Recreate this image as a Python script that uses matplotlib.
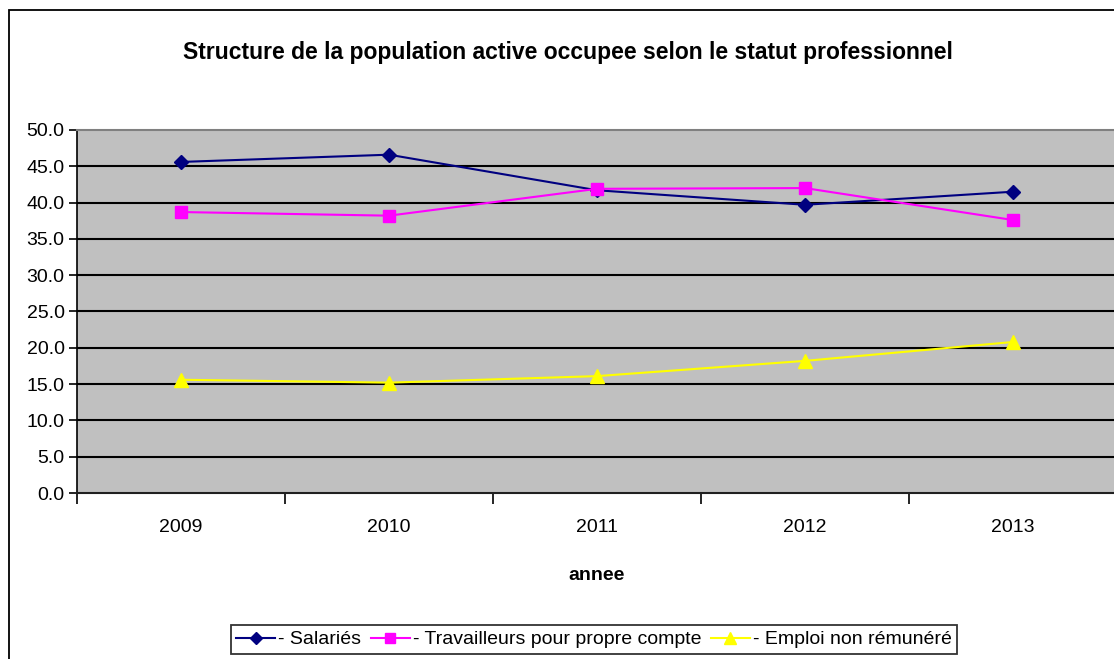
import matplotlib
matplotlib.use("Agg")
import matplotlib.pyplot as plt
from matplotlib.patches import Rectangle

years = ["2009", "2010", "2011", "2012", "2013"]
salaries = [45.6, 46.6, 41.7, 39.7, 41.5]
travailleurs = [38.7, 38.2, 41.9, 42.0, 37.6]
emploi = [15.6, 15.2, 16.1, 18.2, 20.8]
labels = ["- Salariés", "- Travailleurs pour propre compte", "- Emploi non rémunéré"]
title = "Structure de la population active occupee selon le statut professionnel"
xlabel = "annee"
yticks = [0, 5, 10, 15, 20, 25, 30, 35, 40, 45, 50]

plt.rcParams['font.family'] = ['Liberation Sans', 'DejaVu Sans']

W, H = 1114, 659
fig = plt.figure(figsize=(W / 100, H / 100), dpi=100)
fig.patch.set_facecolor("white")

# outer chart frame
fig.patches.append(Rectangle((8.5 / W, -0.05), 1.2, 1 - 10 / H + 0.05,
                             transform=fig.transFigure, fill=False,
                             edgecolor="black", linewidth=1.3, zorder=0))

ax = fig.add_axes([77 / W, 1 - 493 / H, 1040 / W, 363 / H])
ax.set_facecolor("#C0C0C0")

x = list(range(len(years)))
ax.plot(x, salaries, color="#000080", marker="D", markersize=7.5, linewidth=1.5,
        label=labels[0], zorder=4)
ax.plot(x, travailleurs, color="#FF00FF", marker="s", markersize=8, linewidth=1.5,
        label=labels[1], zorder=4)
ax.plot(x, emploi, color="#FFFF00", marker="^", markersize=9.5, linewidth=1.5,
        label=labels[2], zorder=4)

ax.set_xlim(-0.5, len(years) - 0.5)
ax.set_ylim(0, 50)
ax.set_yticks(yticks)
ax.set_yticklabels([f"{v:.1f}" for v in yticks], fontsize=14)
for v in yticks[1:-1]:
    ax.axhline(v, color="black", linewidth=1.5, zorder=1)

ax.set_xticks(x)
ax.set_xticklabels(years, fontsize=14)
ax.tick_params(axis="x", which="major", length=0, pad=19)
ax.set_xticks([i - 0.5 for i in range(len(years) + 1)], minor=True)
ax.tick_params(axis="x", which="minor", length=8, width=1.2, direction="out")
ax.tick_params(axis="y", length=6, width=1.2, direction="out", pad=3)

ax.spines["right"].set_visible(False)
ax.spines["top"].set_color("#808080")
ax.spines["top"].set_linewidth(1.5)
ax.spines["left"].set_color("black")
ax.spines["left"].set_linewidth(1.2)
ax.spines["bottom"].set_color("#202020")
ax.spines["bottom"].set_linewidth(1.5)

fig.text(568 / W, 1 - 52 / H, title, ha="center", va="center",
         fontsize=16.5, fontweight="bold")
fig.text(597 / W, 1 - 575 / H, xlabel, ha="center", va="center",
         fontsize=14, fontweight="bold")

handles, lbls = ax.get_legend_handles_labels()
leg = fig.legend(handles, lbls, loc="center", bbox_to_anchor=(594 / W, 1 - 639.5 / H),
                 ncol=3, fontsize=14, frameon=True, fancybox=False,
                 edgecolor="black", handlelength=2.0, handletextpad=0.15,
                 columnspacing=0.5, borderpad=0.3, markerscale=0.85)
leg.get_frame().set_linewidth(1.3)

fig.savefig("out.png", dpi=100, facecolor="white")
